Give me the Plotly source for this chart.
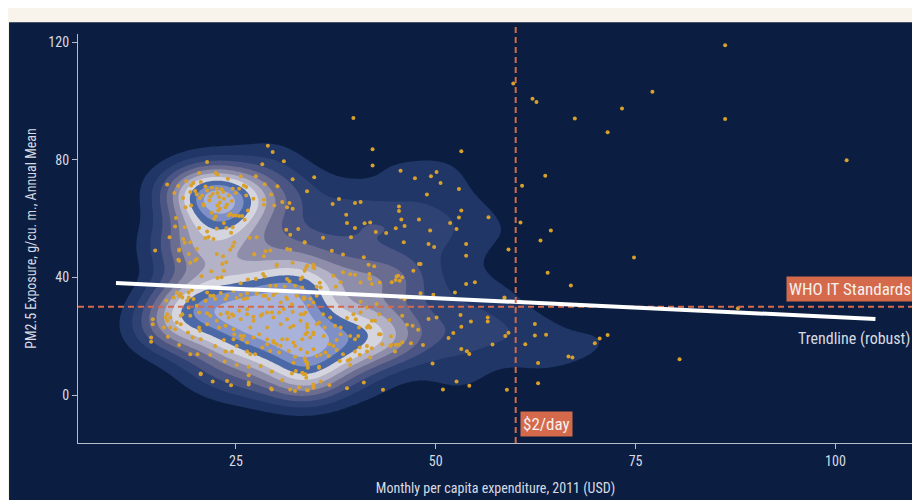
import numpy as np
import plotly.graph_objects as go

# monthly per capita expenditure (USD, 2011) and PM2.5 exposure
expenditure = [
    86.2, 59.7, 62.1, 62.6, 77.1, 73.3, 67.4, 86.2, 71.5, 101.4, 63.7, 60.8, 60.6, 64.4, 63.1, 59.1, 74.8, 64.0,
    66.9, 58.6, 87.8, 62.4, 59.1, 58.7, 62.4, 63.8, 61.2, 71.5, 70.5, 69.9, 80.5, 66.6, 67.1, 62.8, 62.8, 58.9,
    39.7, 42.1, 42.1, 53.2, 45.6, 47.4, 49.4, 50.1, 50.6, 52.9, 48.9, 34.8, 33.9, 37.9, 37.1, 39.9, 40.6, 45.4,
    45.4, 53.2, 56.6, 52.9, 38.8, 38.9, 41.1, 41.8, 45.7, 47.9, 51.8, 39.9, 42.5, 45.0, 46.1, 49.3, 52.6, 39.4,
    35.9, 33.6, 46.0, 49.1, 49.8, 53.8, 53.8, 37.0, 38.4, 41.0, 47.9, 41.6, 42.3, 33.8, 34.7,
    38.4, 39.3, 39.9, 41.7, 41.7, 42.0, 44.5, 45.0, 45.5, 45.3, 45.1, 53.8, 54.9, 52.4, 48.1, 49.7, 46.1, 40.6,
    37.5, 38.1, 35.5, 35.1, 58.6, 53.1, 56.5, 56.5, 54.4, 53.2, 50.1, 49.1, 52.2, 51.6, 57.1, 53.2, 53.9, 54.2,
    49.6, 52.6, 54.2, 50.9, 43.4, 41.0, 38.9, 45.8, 46.4, 47.1, 47.8, 44.2, 42.9, 42.4, 41.6, 41.8, 43.1, 44.4,
    43.3, 44.4, 45.0, 45.4, 45.8, 46.9, 48.4, 44.9, 41.4, 42.0, 41.4, 41.8, 40.3, 39.9, 40.5, 40.5, 39.9, 39.3,
    39.0, 39.3, 38.4, 37.6, 38.0, 36.7, 35.6, 34.7, 34.0, 35.4, 33.9, 33.5,
    35.6, 33.5, 34.3, 40.6, 39.7, 40.0, 38.9, 37.4, 38.1, 38.1, 39.3, 37.6, 37.2, 36.7, 36.0, 36.6, 36.2, 35.6,
    35.1, 34.7, 34.3, 33.7, 34.7, 35.4, 36.1, 36.8, 35.9, 35.1, 33.9, 33.5, 33.7, 34.0, 35.4, 33.8, 34.7, 40.4,
    41.4, 42.9, 44.3, 41.4, 42.0, 42.6, 45.6, 47.2, 45.8,
    29.0, 29.6, 31.0, 21.4, 28.3, 22.5, 22.7, 20.4, 25.6, 27.5, 32.1,
    27.3, 28.5, 29.3, 31.4, 34.7, 33.3, 37.2, 40.6, 41.8, 43.0, 43.8, 48.1, 17.9, 17.9, 16.4, 17.6, 18.1, 20.6,
    26.6, 29.4, 34.7,
    24.0, 18.8, 19.7, 20.6, 19.4, 16.4, 17.8, 17.3, 18.4, 19.3, 19.9, 20.1, 20.8, 21.4, 22.0, 22.6, 23.2, 22.1,
    22.7, 23.4, 24.6, 25.4, 25.0, 24.1, 26.0, 26.3, 26.3, 27.2, 28.6, 30.2, 29.4, 28.5, 30.8, 31.7, 31.4, 32.1,
    28.5, 29.8, 20.9, 21.0, 21.7, 22.9, 23.5, 22.7, 23.0, 22.8, 23.7, 24.1, 24.3, 24.7, 25.4, 25.0, 25.8, 26.5,
    26.1, 22.3, 22.5, 19.4, 18.7, 17.5, 17.4, 18.6, 16.7, 20.4, 21.4, 22.6, 23.5, 24.6, 23.8, 24.4, 22.2, 21.2,
    21.6, 18.4, 18.6, 19.3, 19.1, 17.9, 20.1, 20.1, 19.9, 17.8, 19.3, 14.9, 22.6, 23.4, 23.8, 23.3, 24.6, 24.3,
    24.8, 26.7, 27.6, 27.3, 28.7, 30.1, 31.3, 31.8, 32.8, 33.6, 31.8, 32.1, 33.9, 34.8,
    20.5, 21.8, 23.0, 21.2, 24.5, 22.0, 23.9,
    21.9, 23.5, 20.7, 22.7, 23.2, 25.6, 26.5, 27.5, 28.4, 28.6, 30.1, 31.4, 31.7, 33.1, 33.6, 29.3, 30.0, 31.1,
    32.4, 33.3, 19.5, 19.1, 21.4, 22.2, 23.7, 25.1, 26.0, 26.4, 27.6, 28.7, 30.1, 31.3, 32.6, 33.6, 17.9, 17.2,
    18.3, 16.3, 18.9, 19.7, 21.2, 20.1, 19.1, 18.3, 19.3, 20.4, 21.4, 21.8, 23.1, 23.9, 24.5, 25.4, 26.4, 27.2,
    28.3, 29.5, 30.4, 31.0, 32.1, 33.1, 33.7, 16.4, 16.8, 16.2, 17.6, 14.6, 14.6, 16.0, 16.8, 17.4, 18.1, 19.0,
    19.6, 20.6, 20.4, 20.5, 21.4, 22.9, 23.7, 24.7, 24.8, 26.0, 26.8, 27.9, 28.9, 29.7, 30.1, 30.8, 31.8, 32.4,
    33.3, 33.9, 14.4, 14.4, 16.5, 17.9, 19.3, 20.2, 21.8, 22.4, 23.5, 23.7, 24.5, 25.1, 25.8, 26.4, 26.8, 27.4,
    28.3, 28.9, 29.3, 30.4, 31.6, 32.2, 32.4, 33.6, 33.9, 20.6, 22.1, 23.9, 24.4, 23.6, 25.1, 26.6, 26.6, 26.6,
    28.1, 29.5, 29.5, 30.8, 32.0, 32.5, 33.3, 33.7, 31.8, 32.4, 32.9, 33.9, 18.1, 19.1, 22.6, 24.1,
    21.8, 22.4, 23.1, 23.9, 24.7, 25.6, 26.4, 27.6, 28.4, 29.1, 29.7, 30.6, 31.4, 32.0, 32.6, 33.5, 34.1, 34.7,
    35.1, 23.9, 24.7, 25.6, 26.4, 27.2, 28.1, 28.9, 29.7, 30.6, 31.4, 32.2, 33.1, 33.9, 34.7, 28.9, 29.7, 30.6,
    31.4, 32.2, 33.1, 33.9, 24.7, 25.6, 26.4, 27.2,
]
pm25 = [
    119.0, 106.0, 100.8, 99.7, 103.2, 97.5, 94.1, 93.9, 89.4, 79.9, 74.6, 71.2, 58.7, 56.0, 52.6, 49.5, 46.8, 41.6,
    37.3, 33.2, 29.5, 24.2, 21.2, 20.1, 20.3, 20.5, 17.3, 20.4, 19.2, 17.6, 12.2, 13.1, 12.8, 10.9, 4.0, 1.8,
    94.2, 83.6, 78.1, 82.9, 76.3, 73.7, 74.4, 75.9, 72.1, 70.1, 68.2, 74.1, 69.3, 66.7, 65.0, 65.3, 65.7, 64.1,
    62.6, 62.8, 60.5, 60.4, 61.3, 58.5, 58.4, 58.7, 59.7, 59.7, 58.5, 56.8, 55.5, 56.7, 57.5, 56.0, 56.5, 53.7,
    53.5, 52.0, 52.0, 51.4, 50.4, 51.4, 47.4, 49.1, 47.8, 46.9, 44.6, 44.3, 43.8, 43.4, 43.5,
    41.8, 41.1, 40.9, 41.2, 39.7, 37.8, 38.4, 39.1, 38.9, 40.6, 40.3, 37.8, 38.4, 34.9, 34.6, 34.1, 32.6, 31.7,
    36.8, 38.4, 38.2, 36.8, 33.0, 27.2, 26.4, 25.0, 25.0, 23.2, 26.4, 25.9, 21.1, 19.4, 17.2, 15.7, 14.9, 14.0,
    10.7, 4.6, 3.2, 1.9, 1.8, 4.3, 2.3, 27.0, 23.9, 23.6, 22.2, 25.5, 27.5, 25.3, 23.6, 23.0, 20.7, 20.0,
    17.3, 17.0, 17.1, 17.1, 18.0, 17.6, 17.0, 14.8, 16.7, 15.9, 14.8, 12.8, 20.1, 19.0, 16.2, 13.7, 14.8, 12.2,
    11.8, 10.2, 13.9, 15.3, 11.6, 3.4, 4.6, 3.3, 1.6, 9.6, 11.1, 7.1,
    36.6, 33.2, 32.7, 28.1, 27.5, 25.8, 26.2, 23.6, 23.0, 20.7, 20.1, 18.7, 16.7, 17.3, 20.1, 13.3, 14.5, 13.7,
    13.3, 15.6, 19.6, 20.7, 21.3, 24.7, 23.0, 26.4, 27.5, 24.1, 24.1, 27.5, 11.6, 9.3, 9.3, 5.9, 3.6, 23.0,
    23.0, 20.7, 16.7, 29.8, 25.3, 31.0, 33.2, 42.3, 40.1,
    84.8, 82.7, 79.5, 79.3, 78.5, 75.5, 75.0, 75.5, 74.4, 74.4, 73.4,
    48.0, 47.2, 49.2, 49.7, 44.3, 40.0, 40.6, 38.3, 39.5, 38.3, 55.1, 44.6, 49.2, 45.7, 25.3, 34.9, 34.4, 7.1,
    3.6, 2.2, 2.5,
    73.6, 72.7, 72.1, 72.5, 71.3, 71.6, 71.1, 68.7, 67.0, 69.1, 69.4, 68.3, 67.9, 69.6, 70.5, 70.2, 70.0, 68.5,
    68.7, 69.1, 70.2, 70.2, 68.7, 67.9, 71.3, 70.8, 67.9, 66.8, 71.7, 71.0, 68.2, 66.4, 65.7, 65.3, 63.9, 63.4,
    64.7, 64.5, 64.9, 64.5, 66.2, 67.4, 66.8, 64.5, 63.4, 62.8, 63.9, 61.1, 61.7, 61.1, 60.9, 61.1, 60.9, 62.8,
    59.6, 60.0, 60.8, 64.5, 63.9, 60.2, 57.3, 57.1, 53.7, 56.8, 55.6, 56.6, 58.5, 57.1, 56.8, 55.2, 53.1, 53.4,
    53.8, 53.1, 51.8, 52.0, 48.0, 49.5, 49.7, 46.3, 45.8, 46.0, 45.0, 49.2, 48.0, 47.2, 45.2, 44.6, 50.6, 49.4,
    51.9, 53.5, 53.7, 47.8, 48.9, 44.3, 56.2, 54.5, 56.5, 51.9, 49.4, 45.0, 44.0, 43.1,
    67.0, 67.5, 65.5, 70.9, 66.0, 62.0, 64.8,
    42.1, 42.3, 40.4, 39.8, 40.1, 38.0, 39.3, 39.5, 41.2, 40.3, 44.0, 39.5, 38.7, 39.5, 42.3, 37.2, 37.2, 36.9,
    37.2, 36.6, 35.7, 34.9, 34.9, 33.8, 32.7, 33.0, 32.7, 34.6, 34.4, 33.8, 34.9, 33.2, 33.8, 32.9, 33.8, 33.2,
    33.2, 32.1, 32.1, 32.7, 32.1, 30.4, 29.8, 27.5, 27.0, 28.1, 27.8, 27.0, 27.5, 27.8, 27.5, 28.7, 29.2, 26.6,
    27.5, 28.1, 28.1, 29.2, 28.3, 27.5, 28.1, 27.5, 26.4, 26.4, 24.7, 25.8, 24.1, 23.0, 23.0, 22.4, 24.1, 21.3,
    19.6, 19.0, 23.0, 21.9, 24.1, 23.0, 23.6, 22.4, 20.7, 20.1, 23.0, 20.7, 23.0, 18.4, 17.3, 19.0, 23.0, 16.7,
    19.0, 21.3, 19.6, 18.1, 19.8, 17.0, 13.9, 13.9, 13.7, 16.7, 18.7, 14.8, 14.8, 16.7, 19.0, 14.8, 13.9, 13.9,
    16.2, 17.3, 15.0, 14.5, 15.0, 11.0, 13.0, 12.5, 10.5, 7.3, 4.6, 4.8, 3.3, 11.4, 10.2, 9.6, 6.7, 4.2,
    9.9, 8.0, 1.9, 5.0, 7.3, 8.2, 7.6, 7.1, 1.9, 1.4, 2.7, 1.6, 27.0, 33.2, 25.3, 26.4,
    33.8, 32.7, 34.7, 33.8, 35.5, 34.0, 32.9, 34.7, 33.8, 32.7, 34.0, 31.5, 32.7, 30.9, 33.8, 32.7, 30.4, 31.5,
    33.8, 28.1, 27.0, 25.8, 27.5, 25.3, 27.0, 28.1, 26.4, 24.1, 25.8, 23.6, 25.3, 23.0, 20.7, 19.0, 17.9, 16.7,
    19.0, 17.9, 15.6, 14.5, 19.0, 20.2, 17.9, 19.6,
]

# robust trendline end points, reference lines
trend_x = [10.0, 105.0]
trend_y = [38.1, 25.9]
who_standard = 30
poverty_line = 60  # $2/day

x_range = [5.25, 109.7]
y_range = [-16.3, 122.8]
x_ticks = [25, 50, 75, 100]
y_ticks = [0, 40, 80, 120]

NAVY = "#0b1e41"
CORAL = "#d46a4b"
TEXT = "#d8dbe3"
FONT = "Roboto Condensed, DejaVu Sans Condensed, Liberation Sans Narrow, Roboto, sans-serif"

# 2d kernel density of the points (like ggplot's stat_density_2d_filled)
ex = np.array(expenditure)
pm = np.array(pm25)
gx = np.linspace(x_range[0], x_range[1], 260)
gy = np.linspace(y_range[0], y_range[1], 260)
GX, GY = np.meshgrid(gx, gy)
hx, hy = 3.4, 6.2
dens = np.zeros_like(GX)
for a, b in zip(ex, pm):
    dens += np.exp(-0.5 * (((GX - a) / hx) ** 2 + ((GY - b) / hy) ** 2))
dens = dens / dens.max()

band_colors = ["rgba(11,30,65,0)", "#1f3666", "#2f4274", "#4a5583", "#6a6d90", "#8e8eab",
               "#b3b2c7", "#d5d5e0", "#4b69a6", "#7e90c6", "#a9b3d9"]
colorscale = [[i / (len(band_colors) - 1), c] for i, c in enumerate(band_colors)]

fig = go.Figure()

fig.add_trace(go.Contour(
    x=gx, y=gy, z=dens,
    zmin=0, zmax=1,
    contours=dict(start=0.09, end=0.9, size=0.09, coloring="fill", showlines=False),
    colorscale=colorscale,
    line=dict(width=0),
    showscale=False,
    hoverinfo="skip",
))

fig.add_trace(go.Scatter(
    x=expenditure, y=pm25, mode="markers",
    marker=dict(size=4, color="#d9a12b", line=dict(width=0)),
    showlegend=False,
))

# WHO standard, dashed
fig.add_trace(go.Scatter(
    x=x_range, y=[who_standard, who_standard], mode="lines",
    line=dict(color=CORAL, width=2, dash="6px,4px"),
    hoverinfo="skip", showlegend=False,
))

fig.add_trace(go.Scatter(
    x=trend_x, y=trend_y, mode="lines",
    line=dict(color="white", width=4),
    showlegend=False,
))

# navy card behind the whole plot
fig.add_shape(type="rect", xref="paper", yref="paper",
              x0=-0.0826, x1=1.1, y0=-0.3, y1=1.029,
              fillcolor=NAVY, line=dict(width=0), layer="below")
# $2/day line
fig.add_shape(type="line", xref="x", yref="paper",
              x0=poverty_line, x1=poverty_line, y0=0, y1=1.025,
              line=dict(color=CORAL, width=2, dash="6px,4px"), layer="above")

fig.add_annotation(x=101.8, y=36.2, text="WHO IT Standards", showarrow=False,
                   bgcolor=CORAL, font=dict(family=FONT, size=17, color="#f4f1ee"),
                   borderpad=2)
fig.add_annotation(x=63.9, y=-9.8, text="$2/day", showarrow=False,
                   bgcolor=CORAL, font=dict(family=FONT, size=17, color="#f4f1ee"),
                   borderpad=2)
fig.add_annotation(xref="paper", x=0.999, y=19.4, text="Trendline (robust)", showarrow=False,
                   xanchor="right", font=dict(family=FONT, size=16, color=TEXT))

axis_common = dict(
    showgrid=False, zeroline=False, showline=True, linecolor="#b7bcc9", linewidth=1.2,
    ticks="outside", tickcolor="#b7bcc9", ticklen=5, tickwidth=1,
    tickfont=dict(family=FONT, size=14, color=TEXT),
)

fig.update_xaxes(range=x_range, tickvals=x_ticks, **axis_common,
                 title=dict(text="Monthly per capita expenditure, 2011 (USD)",
                            font=dict(family=FONT, size=14, color=TEXT), standoff=15))
fig.update_yaxes(range=y_range, tickvals=y_ticks, **axis_common,
                 title=dict(text="PM2.5 Exposure, g/cu. m., Annual Mean",
                            font=dict(family=FONT, size=14, color=TEXT), standoff=8))

# the page puts the figure 8px in from the top-left corner, margins allow for that
fig.update_layout(
    width=920, height=500,
    margin=dict(l=70, r=15, t=26, b=65, autoexpand=False),
    paper_bgcolor="#f8f4ec",
    plot_bgcolor=NAVY,
    showlegend=False,
    font=dict(family=FONT),
)

fig.write_html("out.html")
